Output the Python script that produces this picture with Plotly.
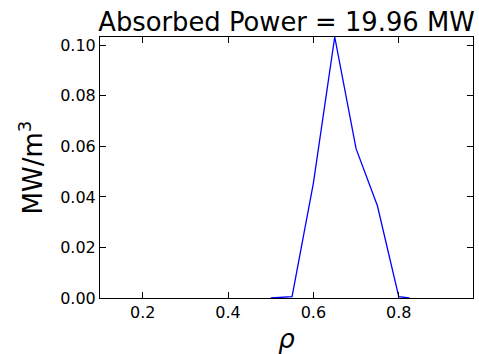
import plotly.graph_objects as go

rho = [0.5, 0.55, 0.6, 0.65, 0.7, 0.75, 0.8, 0.825]
power = [0, 0.0005, 0.0455, 0.1033, 0.0591, 0.0365, 0.0005, 0]
x_ticks = [0.2, 0.4, 0.6, 0.8]
y_ticks = [0.0, 0.02, 0.04, 0.06, 0.08, 0.10]
title = "Absorbed Power = 19.96 MW"

fig = go.Figure(go.Scatter(x=rho, y=power, mode="lines",
                           line=dict(color="#0000ff", width=1.3), cliponaxis=True))

font = "DejaVu Sans"
axis_common = dict(showline=True, linecolor="black", linewidth=1, mirror="ticks",
                   ticks="inside", ticklen=6, tickwidth=1, tickcolor="black",
                   showgrid=False, zeroline=False, automargin=False,
                   tickfont=dict(family=font, size=16, color="black"))

fig.update_layout(
    width=479, height=354,
    margin=dict(l=100, r=6, t=37, b=56, autoexpand=False),
    paper_bgcolor="white", plot_bgcolor="white",
    showlegend=False,
    title=dict(text=title, x=0.5, xref="paper", xanchor="center",
               y=1, yref="paper", yanchor="bottom", pad=dict(b=6),
               font=dict(family=font, size=25.8, color="black")),
    xaxis=dict(range=[0.1, 0.974], tickvals=x_ticks, ticktext=[f"{v:.1f}" for v in x_ticks],
               title=dict(text="<i>ρ</i>", font=dict(family=font, size=26, color="black"), standoff=11),
               **axis_common),
    yaxis=dict(range=[0, 0.1033], tickvals=y_ticks, ticktext=[f"{v:.2f}" for v in y_ticks],
               title=dict(text="MW/m<sup>3</sup>", font=dict(family=font, size=26, color="black"), standoff=10),
               **axis_common),
)

fig.write_html("out.html")
